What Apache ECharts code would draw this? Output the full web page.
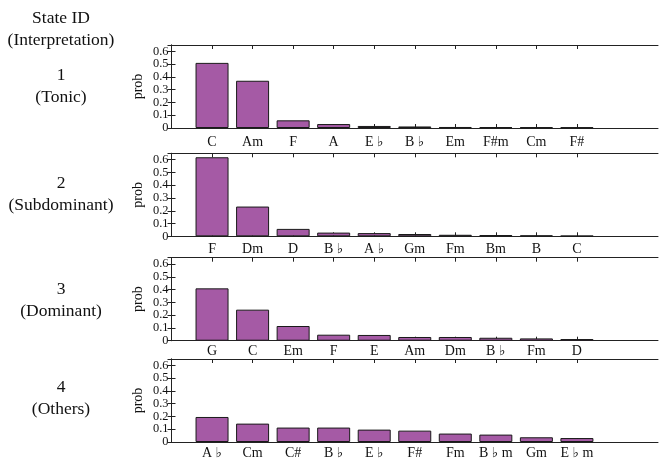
<!DOCTYPE html>
<html>
<head>
<meta charset="utf-8">
<script src="https://cdn.jsdelivr.net/npm/echarts@6/dist/echarts.min.js"></script>
<style>html,body{margin:0;padding:0;background:#fff}#c{width:659px;height:460px}</style>
</head>
<body>
<div id="c"></div>
<script>
// ---- data ----
var cats1 = ['C', 'Am', 'F', 'A', 'E ♭', 'B ♭', 'Em', 'F#m', 'Cm', 'F#'];
var vals1 = [0.51, 0.37, 0.06, 0.031, 0.016, 0.012, 0.008, 0.007, 0.006, 0.005];
var cats2 = ['F', 'Dm', 'D', 'B ♭', 'A ♭', 'Gm', 'Fm', 'Bm', 'B', 'C'];
var vals2 = [0.619, 0.233, 0.058, 0.029, 0.025, 0.018, 0.012, 0.01, 0.007, 0.004];
var cats3 = ['G', 'C', 'Em', 'F', 'E', 'Am', 'Dm', 'B ♭', 'Fm', 'D'];
var vals3 = [0.41, 0.243, 0.115, 0.047, 0.045, 0.029, 0.029, 0.023, 0.018, 0.013];
var cats4 = ['A ♭', 'Cm', 'C#', 'B ♭', 'E ♭', 'F#', 'Fm', 'B ♭ m', 'Gm', 'E ♭ m'];
var vals4 = [0.196, 0.144, 0.113, 0.113, 0.097, 0.089, 0.066, 0.058, 0.037, 0.031];
var stateIds = ['1', '2', '3', '4'];
var stateNames = ['(Tonic)', '(Subdominant)', '(Dominant)', '(Others)'];

var panels = [
  {cats: cats1, vals: vals1, top: 45, margin: 7, idY: 75, nameY: 97.5},
  {cats: cats2, vals: vals2, top: 153.3, margin: 6, idY: 183.3, nameY: 205.5},
  {cats: cats3, vals: vals3, top: 257.7, margin: 4, idY: 289, nameY: 311.5},
  {cats: cats4, vals: vals4, top: 359, margin: 4, idY: 387.3, nameY: 409.5}
];

var FONT = '"Liberation Serif", "DejaVu Serif", serif';
var LINE = '#222';
var chart = echarts.init(document.getElementById('c'), null, {renderer: 'canvas'});

var grids = [], xAxes = [], yAxes = [], series = [], graphics = [];
graphics.push({type: 'text', x: 61, y: 18, style: {text: 'State ID', font: '17.5px ' + FONT, fill: '#111', textAlign: 'center', textVerticalAlign: 'middle'}});
graphics.push({type: 'text', x: 61, y: 40, style: {text: '(Interpretation)', font: '17.5px ' + FONT, fill: '#111', textAlign: 'center', textVerticalAlign: 'middle'}});

function yLabel(v) {
  if (v > 0.61) return '';
  return v < 0.001 ? '0' : v.toFixed(1);
}

panels.forEach(function (p, i) {
  var xs = p.cats.map(function (c, k) { return k + 1; });
  grids.push({left: 171.5, right: 1, top: p.top, height: 83});
  xAxes.push({
    type: 'value', gridIndex: i, position: 'bottom', min: 0, max: 12,
    splitLine: {show: false},
    axisLine: {show: true, onZero: false, lineStyle: {color: LINE, width: 1}},
    axisTick: {show: true, inside: true, length: 4, customValues: xs, lineStyle: {color: LINE}},
    axisLabel: {show: true, customValues: xs, margin: p.margin, fontFamily: FONT, fontSize: 14, color: '#111',
      hideOverlap: false,
      formatter: (function (cats) { return function (v) { return cats[Math.round(v) - 1] || ''; }; })(p.cats)}
  });
  xAxes.push({
    type: 'value', gridIndex: i, position: 'top', min: 0, max: 12,
    splitLine: {show: false},
    axisLine: {show: true, onZero: false, lineStyle: {color: LINE, width: 1}},
    axisTick: {show: true, inside: true, length: 4, customValues: xs, lineStyle: {color: LINE}},
    axisLabel: {show: false}
  });
  yAxes.push({
    type: 'value', gridIndex: i, position: 'left', min: 0, max: 0.65, interval: 0.1,
    name: 'prob', nameLocation: 'middle', nameGap: 26, nameRotate: 90, nameMoveOverlap: false,
    nameTextStyle: {fontFamily: FONT, fontSize: 14, color: '#111'},
    splitLine: {show: false},
    axisLine: {show: true, lineStyle: {color: LINE, width: 1}},
    axisTick: {show: true, inside: true, length: 4, lineStyle: {color: LINE}},
    axisLabel: {show: true, margin: 3, fontFamily: FONT, fontSize: 12.4, lineHeight: 12, color: '#111',
      hideOverlap: false, interval: 0,
      formatter: yLabel}
  });
  yAxes.push({
    type: 'value', gridIndex: i, position: 'right', min: 0, max: 0.65, interval: 0.1,
    splitLine: {show: false},
    axisLine: {show: true, lineStyle: {color: LINE, width: 1}},
    axisTick: {show: true, inside: true, length: 4, lineStyle: {color: LINE}},
    axisLabel: {show: false}
  });
  series.push({
    type: 'bar', xAxisIndex: i * 2, yAxisIndex: i * 2, barWidth: 33,
    itemStyle: {color: '#a55aa5', borderColor: '#1a1a1a', borderWidth: 1},
    data: p.vals.map(function (v, k) { return [k + 1, v]; }),
    z: 1
  });
  graphics.push({type: 'text', x: 61, y: p.idY, style: {text: stateIds[i], font: '17.5px ' + FONT, fill: '#111', textAlign: 'center', textVerticalAlign: 'middle'}});
  graphics.push({type: 'text', x: 61, y: p.nameY, style: {text: stateNames[i], font: '17.5px ' + FONT, fill: '#111', textAlign: 'center', textVerticalAlign: 'middle'}});
});

chart.setOption({
  animation: false,
  backgroundColor: '#fff',
  grid: grids, xAxis: xAxes, yAxis: yAxes, series: series, graphic: graphics
});
</script>
</body>
</html>
